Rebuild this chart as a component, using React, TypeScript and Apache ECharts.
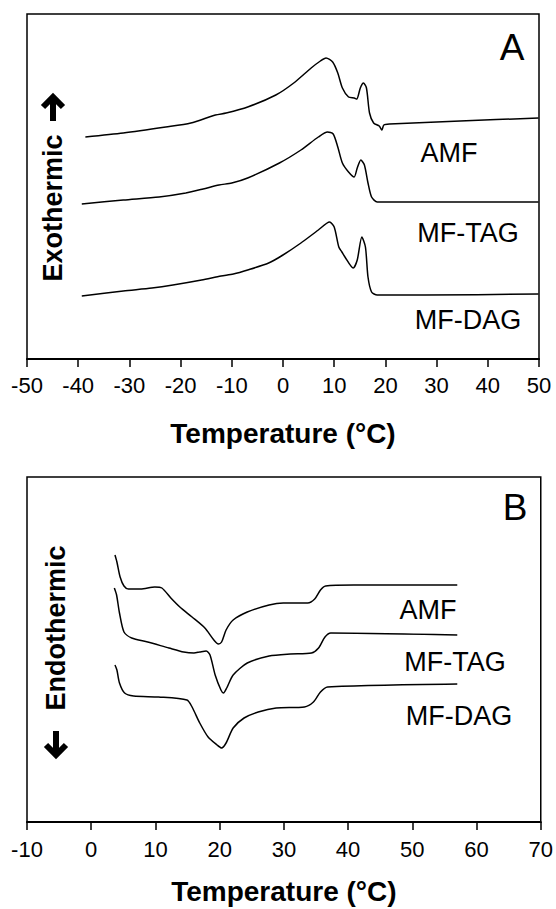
import React, { useEffect, useRef } from "react";
import * as echarts from "echarts";

// ---- Panel A (cooling, exothermic up) : temperature (°C) and heat flow (arbitrary units)
const tempTicksA = [-50, -40, -30, -20, -10, 0, 10, 20, 30, 40, 50];
const amfA_T = [-38.6, -31.2, -22.9, -18.0, -13.2, -11.1, -6.9, -1.4, 2.1, 5.5, 7.3, 8.4, 9.7, 10.7, 11.6, 12.8, 13.9, 14.4, 15.1, 15.7, 16.3, 16.9, 17.7, 18.8, 19.3, 19.7, 20.8, 34.6, 49.9];
const amfA_Q = [22.2, 22.6, 23.2, 23.6, 24.4, 24.6, 25.2, 26.4, 27.6, 29.1, 29.8, 30.1, 29.7, 28.6, 27.1, 26.2, 26.1, 26.0, 27.1, 27.6, 27.1, 24.6, 23.6, 23.3, 22.9, 23.4, 23.5, 23.8, 24.1];
const tagA_T = [-39.3, -31.2, -24.2, -19.0, -15.6, -12.5, -10.0, -6.9, -0.7, 3.5, 6.9, 8.7, 9.8, 10.7, 11.6, 12.8, 13.9, 14.5, 15.2, 15.9, 16.6, 17.3, 18.4, 20.8, 49.9];
const tagA_Q = [15.5, 15.9, 16.2, 16.6, 17.0, 17.4, 17.6, 18.1, 19.6, 20.9, 22.2, 22.7, 22.5, 21.2, 19.6, 18.7, 18.2, 19.1, 19.9, 19.4, 17.6, 16.2, 15.7, 15.7, 15.7];
const dagA_T = [-39.3, -31.2, -25.6, -21.5, -15.9, -12.1, -9.7, -6.9, -2.8, 0.0, 3.5, 6.9, 9.1, 10.0, 10.9, 11.5, 12.1, 13.7, 14.5, 15.4, 16.1, 16.6, 17.3, 18.4, 27.7, 49.9];
const dagA_Q = [6.3, 6.8, 7.1, 7.4, 7.9, 8.3, 8.5, 8.9, 9.6, 10.4, 11.6, 12.9, 13.7, 13.2, 11.2, 10.7, 10.2, 9.1, 9.9, 12.2, 11.2, 8.2, 6.7, 6.4, 6.4, 6.5];

// ---- Panel B (heating, endothermic down)
const tempTicksB = [-10, 0, 10, 20, 30, 40, 50, 60, 70];
const amfB_T = [3.7, 4.0, 4.5, 5.1, 5.8, 7.7, 9.9, 11.0, 12.4, 13.8, 15.7, 17.7, 19.1, 19.8, 20.3, 21.0, 22.1, 24.3, 27.7, 29.9, 33.7, 34.8, 35.7, 36.5, 40.9, 57.0];
const amfB_Q = [26.7, 26.0, 24.5, 23.6, 23.3, 23.3, 23.5, 23.4, 22.4, 21.5, 20.5, 19.4, 18.2, 17.8, 18.0, 19.2, 20.2, 21.0, 21.7, 21.9, 21.9, 22.3, 23.2, 23.6, 23.7, 23.7];
const tagB_T = [3.6, 3.95, 4.4, 5.1, 6.3, 8.8, 12.1, 14.4, 16.0, 16.9, 17.9, 18.5, 19.3, 20.2, 20.6, 21.1, 22.1, 24.3, 27.7, 31.0, 34.3, 35.4, 36.4, 37.3, 57.0];
const tagB_Q = [23.4, 22.7, 20.9, 19.0, 18.4, 18.0, 17.4, 17.0, 16.9, 17.0, 17.1, 16.7, 14.7, 13.2, 12.9, 13.4, 14.7, 15.9, 16.6, 16.8, 16.9, 17.4, 18.5, 18.9, 18.7];
const dagB_T = [3.7, 4.0, 4.4, 5.2, 6.6, 10.5, 14.9, 15.7, 16.9, 18.2, 19.6, 20.3, 21.0, 22.1, 23.8, 26.0, 28.8, 33.2, 34.6, 35.7, 36.8, 57.0];
const dagB_Q = [15.7, 15.2, 13.9, 12.9, 12.6, 12.5, 12.2, 11.5, 9.9, 8.5, 7.7, 7.4, 7.9, 9.4, 10.4, 11.0, 11.4, 11.5, 12.0, 13.0, 13.5, 13.8];

const sampleNames = ["AMF", "MF-TAG", "MF-DAG"];

const FONT = "'Liberation Sans', Arial, Helvetica, sans-serif";

function pairs(t: number[], q: number[]) {
  return t.map((v, i) => [v, q[i]]);
}

export default function App() {
  const ref = useRef<HTMLDivElement>(null);

  useEffect(() => {
    if (!ref.current) return;
    const chart = echarts.init(ref.current, undefined, { renderer: "svg" });

    const xAxisCommon = (min: number, max: number, gridIndex: number, nameGap: number, margin: number) => ({
      type: "value",
      gridIndex,
      min,
      max,
      interval: 10,
      name: "Temperature (°C)",
      nameLocation: "middle",
      nameGap,
      nameTextStyle: { fontFamily: FONT, fontSize: 28, fontWeight: "bold", color: "#000" },
      axisLine: { show: true, onZero: false, lineStyle: { color: "#000", width: 2 } },
      axisTick: { show: true, inside: false, length: 8, lineStyle: { color: "#000", width: 1.5 } },
      axisLabel: { fontFamily: FONT, fontSize: 22, color: "#000", margin },
      splitLine: { show: false },
    });

    const lineSeries = (name: string, data: number[][], idx: number) => ({
      type: "line",
      name,
      xAxisIndex: idx,
      yAxisIndex: idx,
      data,
      showSymbol: false,
      smooth: 0.25,
      lineStyle: { color: "#000", width: 1.5 },
      silent: true,
    });

    const arrow = (cx: number, tipY: number, dir: number) => {
      const L = 26;
      const h = 10;
      return {
        type: "group",
        children: [
          {
            type: "line",
            shape: { x1: cx, y1: tipY + dir * 3, x2: cx, y2: tipY + dir * L },
            style: { stroke: "#000", lineWidth: 6 },
          },
          {
            type: "polyline",
            shape: { points: [[cx - h, tipY + dir * (h + 2)], [cx, tipY + dir * 2], [cx + h, tipY + dir * (h + 2)]] },
            style: { stroke: "#000", lineWidth: 6, fill: null, lineJoin: "miter" },
          },
        ],
      };
    };

    const label = (text: string, x: number, y: number) => ({
      type: "text",
      x,
      y,
      style: { text, fontFamily: FONT, fontSize: 27, fill: "#000", align: "center", verticalAlign: "middle" },
    });

    chart.setOption({
      animation: false,
      backgroundColor: "#fff",
      grid: [
        { left: 27, width: 512, top: 14, height: 345, show: true, borderColor: "#000", borderWidth: 1.5 },
        { left: 27, width: 514, top: 477, height: 345, show: true, borderColor: "#000", borderWidth: 1.5 },
      ],
      xAxis: [xAxisCommon(tempTicksA[0], tempTicksA[tempTicksA.length - 1], 0, 60, 15), xAxisCommon(tempTicksB[0], tempTicksB[tempTicksB.length - 1], 1, 55, 16)],
      yAxis: [
        { type: "value", gridIndex: 0, min: 0, max: 34.5, show: false },
        { type: "value", gridIndex: 1, min: 0, max: 34.5, show: false },
      ],
      series: [
        lineSeries(sampleNames[0] + " A", pairs(amfA_T, amfA_Q), 0),
        lineSeries(sampleNames[1] + " A", pairs(tagA_T, tagA_Q), 0),
        lineSeries(sampleNames[2] + " A", pairs(dagA_T, dagA_Q), 0),
        lineSeries(sampleNames[0] + " B", pairs(amfB_T, amfB_Q), 1),
        lineSeries(sampleNames[1] + " B", pairs(tagB_T, tagB_Q), 1),
        lineSeries(sampleNames[2] + " B", pairs(dagB_T, dagB_Q), 1),
      ],
      graphic: [
        { type: "text", x: 512, y: 47, style: { text: "A", fontFamily: FONT, fontSize: 37, fill: "#000", align: "center", verticalAlign: "middle" } },
        { type: "text", x: 515, y: 507, style: { text: "B", fontFamily: FONT, fontSize: 37, fill: "#000", align: "center", verticalAlign: "middle" } },
        {
          type: "text",
          x: 53,
          y: 208,
          rotation: Math.PI / 2,
          style: { text: "Exothermic", fontFamily: FONT, fontSize: 27, fontWeight: "bold", fill: "#000", align: "center", verticalAlign: "middle" },
        },
        arrow(53, 95, 1),
        {
          type: "text",
          x: 56,
          y: 628,
          rotation: Math.PI / 2,
          style: { text: "Endothermic", fontFamily: FONT, fontSize: 27, fontWeight: "bold", fill: "#000", align: "center", verticalAlign: "middle" },
        },
        arrow(56, 757, -1),
        label(sampleNames[0], 449, 153),
        label(sampleNames[1], 468, 233),
        label(sampleNames[2], 468, 320),
        label(sampleNames[0], 428, 610),
        label(sampleNames[1], 455, 662),
        label(sampleNames[2], 459, 716),
      ],
    });

    return () => chart.dispose();
  }, []);

  return <div ref={ref} style={{ position: "absolute", left: 0, top: 0, width: 556, height: 909 }} />;
}
